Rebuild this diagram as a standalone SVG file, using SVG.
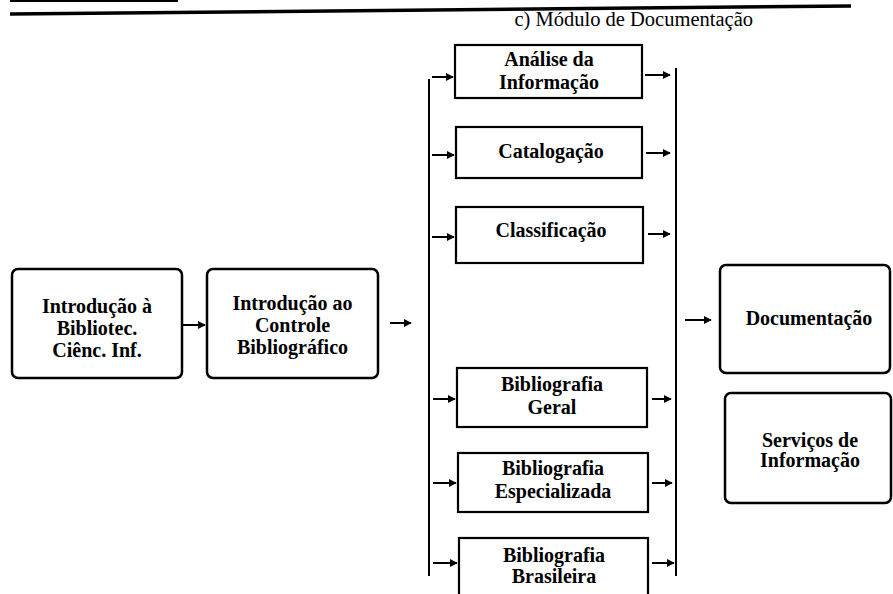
<svg xmlns="http://www.w3.org/2000/svg" width="893" height="594" viewBox="0 0 893 594">
<defs>
<style>
.box{fill:#fff;stroke:#000;stroke-width:2.5}
.sq{fill:#fff;stroke:#000;stroke-width:2.2}
.t{font-family:'Liberation Serif',Tinos,'Times New Roman','DejaVu Serif',serif;font-size:20px;font-weight:bold;text-anchor:middle;fill:#000}
.ttl{font-family:'Liberation Serif',Tinos,'Times New Roman','DejaVu Serif',serif;font-size:20.5px;fill:#000}
.c{stroke:#000;stroke-width:2;fill:none}
.a{stroke:#000;stroke-width:2;fill:none;marker-end:url(#ah)}
</style>
<marker id="ah" viewBox="0 0 10 10" refX="9" refY="5" markerWidth="4" markerHeight="4" orient="auto" markerUnits="strokeWidth">
<path d="M0,0 L10,5 L0,10 Z" fill="#000"/>
</marker>
</defs>
<rect width="893" height="594" fill="#fff"/>
<g id="header">
<line x1="10" y1="1" x2="178" y2="1" stroke="#000" stroke-width="2"/>
<line x1="10" y1="14" x2="851" y2="6" stroke="#000" stroke-width="3.5"/>
<text class="ttl" x="753" y="26" text-anchor="end" font-family="Liberation Serif, serif">c) Módulo de Documentação</text>
</g>
<g id="n-intro-bib">
<rect class="box" x="12" y="269" width="170" height="109" rx="6"/>
<text class="t" x="97" y="313">Introdução à</text>
<text class="t" x="97" y="335">Bibliotec.</text>
<text class="t" x="97" y="357">Ciênc. Inf.</text>
</g>
<g id="n-intro-controle">
<rect class="box" x="207" y="269" width="171" height="109" rx="6"/>
<text class="t" x="292.5" y="310">Introdução ao</text>
<text class="t" x="292.5" y="332">Controle</text>
<text class="t" x="292.5" y="354">Bibliográfico</text>
</g>
<g id="n-analise">
<rect class="sq" x="455" y="45" width="187" height="53"/>
<text class="t" x="549" y="66">Análise da</text>
<text class="t" x="549" y="89">Informação</text>
</g>
<g id="n-catalogacao">
<rect class="sq" x="456" y="127" width="186" height="51"/>
<text class="t" x="551" y="158">Catalogação</text>
</g>
<g id="n-classificacao">
<rect class="sq" x="456" y="207" width="187" height="56"/>
<text class="t" x="551" y="237">Classificação</text>
</g>
<g id="n-bib-geral">
<rect class="sq" x="457" y="368" width="190" height="59"/>
<text class="t" x="552" y="391">Bibliografia</text>
<text class="t" x="552" y="414">Geral</text>
</g>
<g id="n-bib-esp">
<rect class="sq" x="458" y="453" width="190" height="59"/>
<text class="t" x="553" y="475">Bibliografia</text>
<text class="t" x="553" y="498">Especializada</text>
</g>
<g id="n-bib-bras">
<rect class="sq" x="459" y="538" width="189" height="66"/>
<text class="t" x="554" y="562">Bibliografia</text>
<text class="t" x="554" y="583">Brasileira</text>
</g>
<g id="n-documentacao">
<rect class="box" x="720" y="265" width="170" height="108" rx="6"/>
<text class="t" x="809" y="325">Documentação</text>
</g>
<g id="n-servicos">
<rect class="box" x="725" y="393" width="166" height="110" rx="6"/>
<text class="t" x="810" y="447">Serviços de</text>
<text class="t" x="810" y="467">Informação</text>
</g>
<g id="connectors">
<line class="a" x1="183" y1="325" x2="205" y2="325"/>
<line class="a" x1="390" y1="323" x2="411" y2="323"/>
<line class="c" x1="429" y1="79" x2="429" y2="576"/>
<line class="c" x1="676" y1="68" x2="676" y2="576"/>
<line class="a" x1="432" y1="77" x2="453" y2="77"/>
<line class="a" x1="432" y1="155" x2="454" y2="155"/>
<line class="a" x1="432" y1="237" x2="454" y2="237"/>
<line class="a" x1="433" y1="399" x2="455" y2="399"/>
<line class="a" x1="433" y1="483" x2="456" y2="483"/>
<line class="a" x1="433" y1="563" x2="457" y2="563"/>
<line class="a" x1="645" y1="75" x2="670" y2="75"/>
<line class="a" x1="646" y1="153" x2="670" y2="153"/>
<line class="a" x1="648" y1="234" x2="670" y2="234"/>
<line class="a" x1="652" y1="399" x2="671" y2="399"/>
<line class="a" x1="652" y1="483" x2="672" y2="483"/>
<line class="a" x1="652" y1="563" x2="674" y2="563"/>
<line class="a" x1="685" y1="320" x2="711" y2="320"/>
</g>
</svg>
